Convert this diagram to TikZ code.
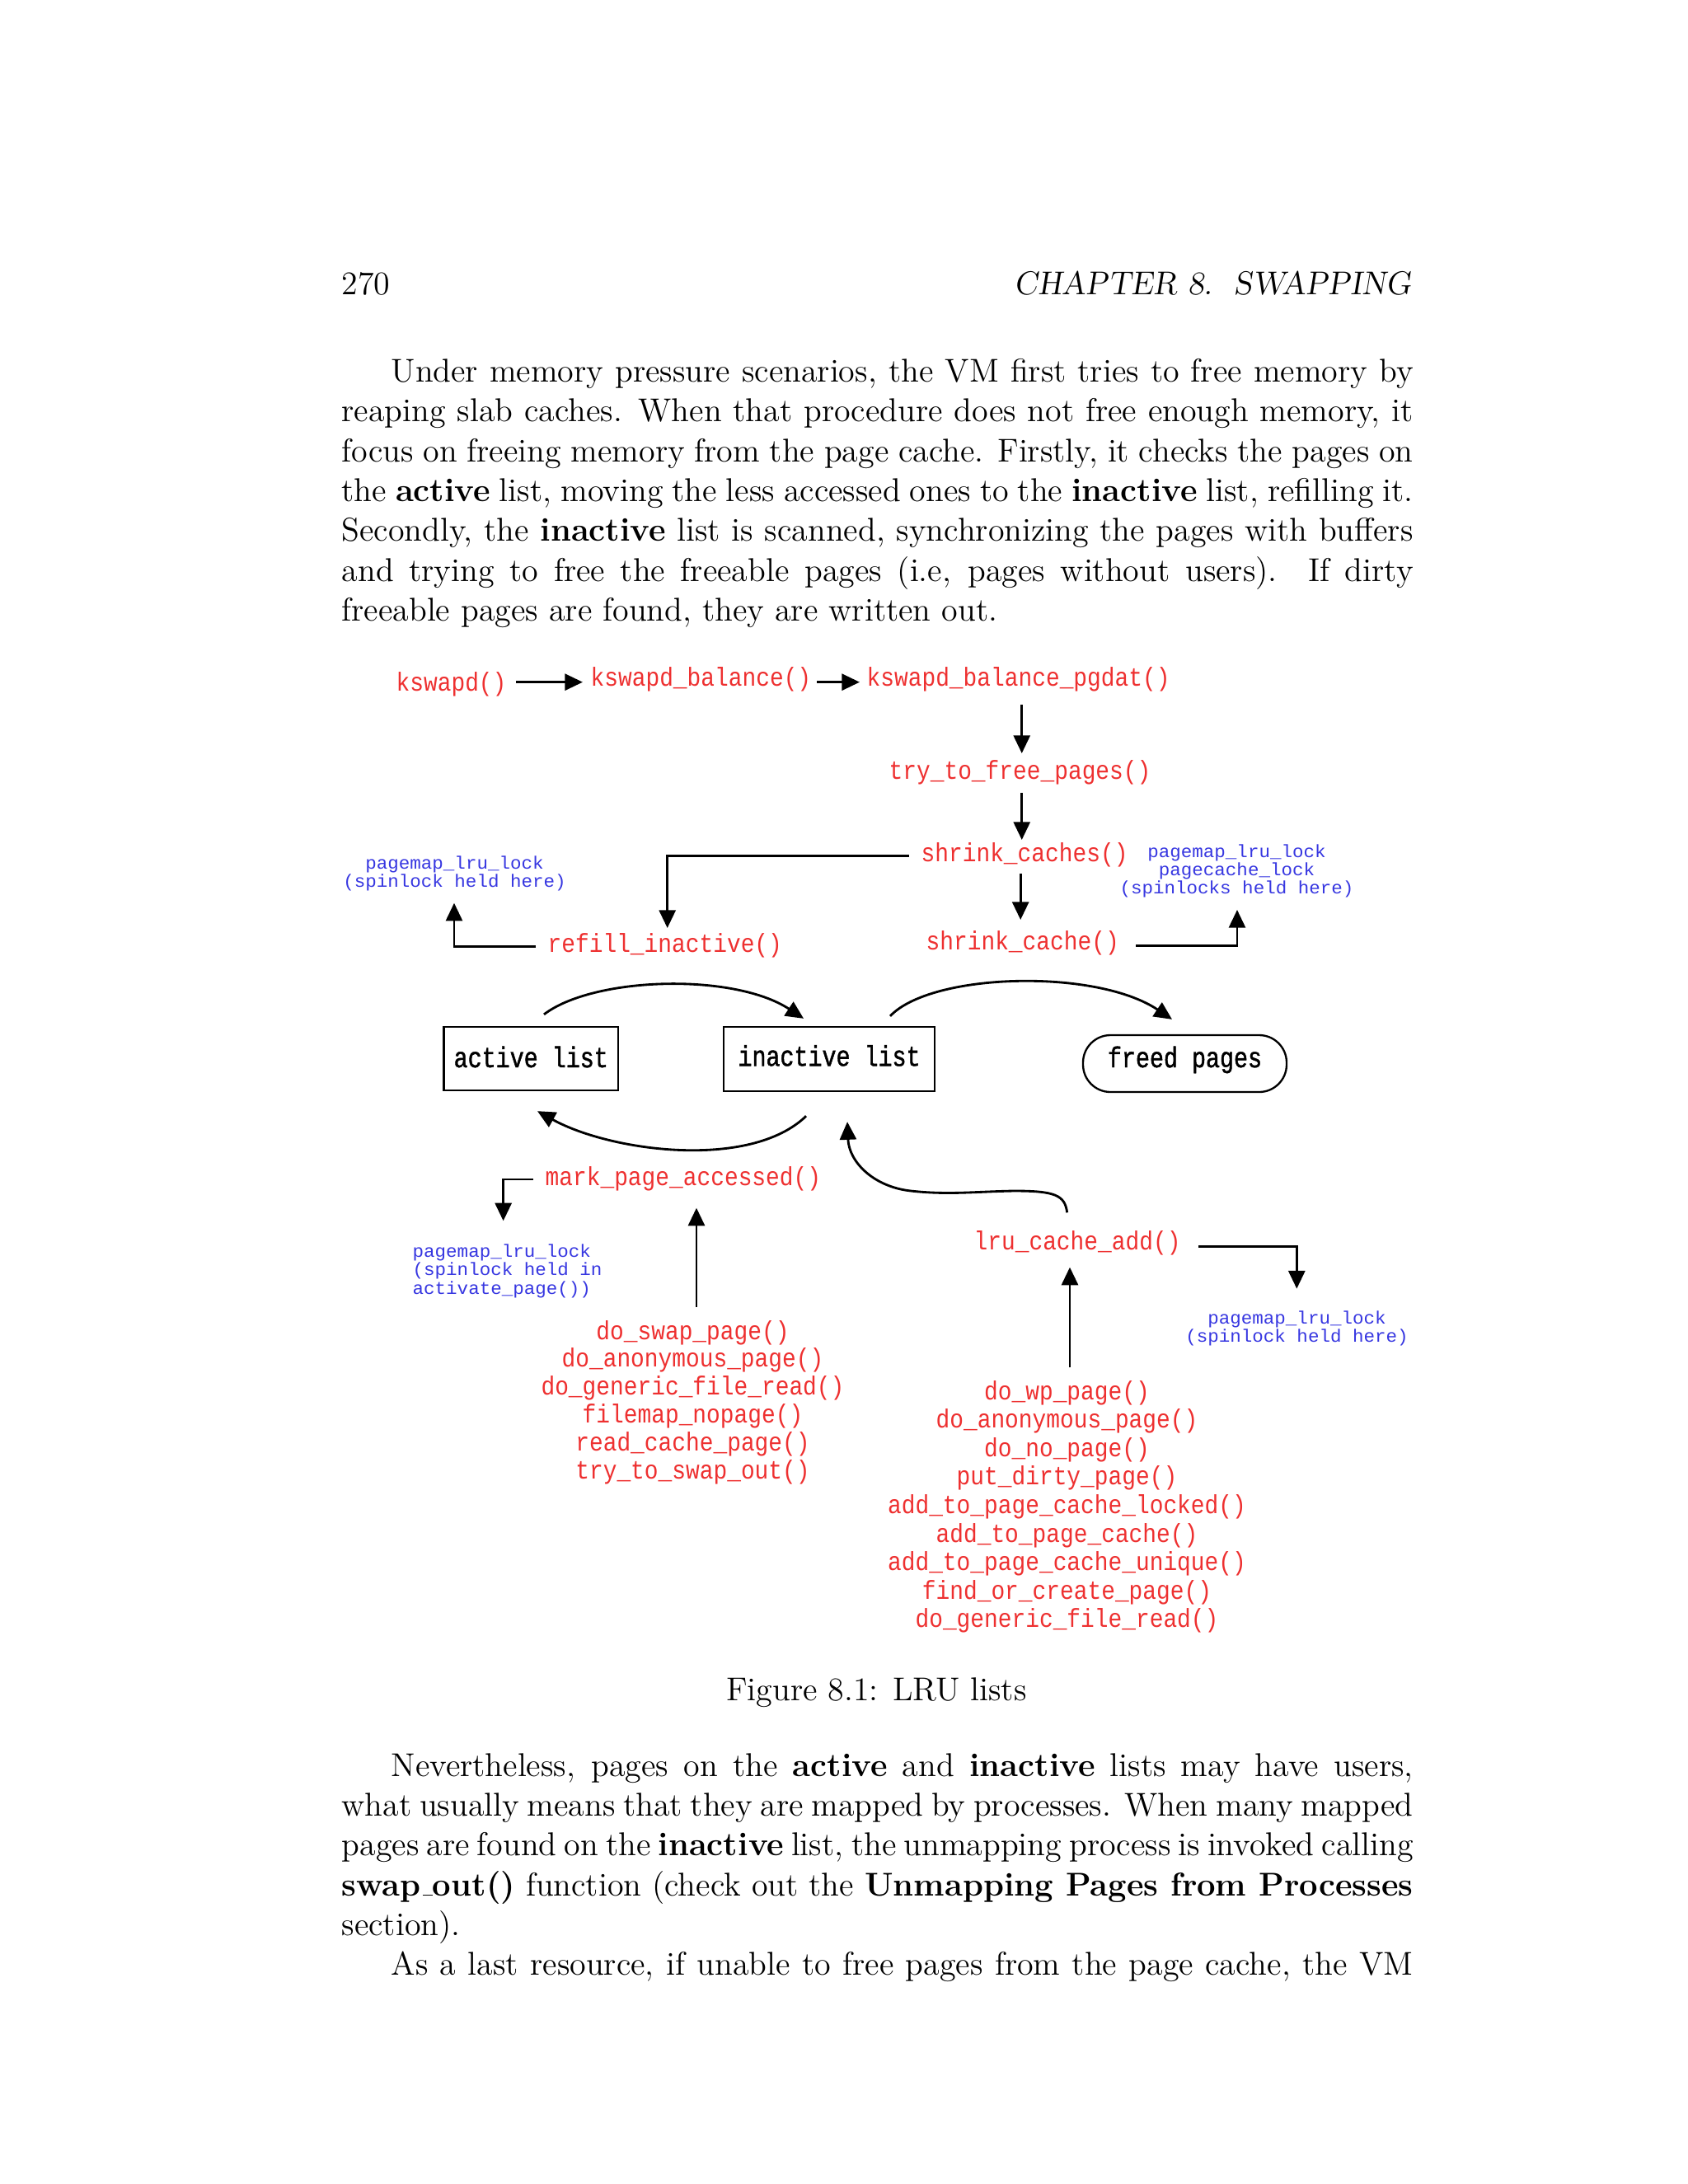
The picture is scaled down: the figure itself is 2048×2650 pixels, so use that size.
\documentclass[tikz,border=0pt]{standalone}
\usepackage{fontspec}
\newfontfamily\dfont[FakeStretch=0.88]{Liberation Mono}
\newfontfamily\lfont[FakeStretch=1.04]{Liberation Mono}
\newfontfamily\bfont[FakeStretch=0.81,FakeBold=1.2]{Liberation Mono}
\usetikzlibrary{arrows.meta,calc}
\definecolor{fnred}{RGB}{238,48,48}
\definecolor{lkblue}{RGB}{55,55,225}
\newcommand\ulbar{\leavevmode\kern.06em\vbox{\hrule width.3em}}
\tikzset{
  body/.style={anchor=base west, inner sep=0pt, font=\fontsize{12}{14.5}\selectfont},
  fn/.style={anchor=base west, inner sep=0pt, text=fnred, font=\fontsize{9.5}{11}\selectfont\dfont, text height=7pt, text depth=2pt},
  fnc/.style={fn, anchor=base},
  lk/.style={anchor=base, inner sep=0pt, text=lkblue, font=\fontsize{6.5}{8}\selectfont\lfont, text height=4.5pt, text depth=1.3pt},
  lkw/.style={lk, anchor=base west},
  lst/.style={draw=black, line width=0.7pt, inner sep=0pt, font=\fontsize{10.5}{12}\selectfont\bfont, text=black},
  conn/.style={line width=0.85pt, -{Triangle[length=6.5pt,width=6pt]}},
}
\begin{document}
\begin{tikzpicture}[x=0.3pt,y=-0.3pt]
\fill[white] (0,0) rectangle (2048,2650);
\useasboundingbox (0,0) rectangle (2048,2650);

% running head
\node[body] (pnum) at (414,357) {270};
\node[body, anchor=base east] (head) at (1713,357) {\slshape CHAPTER 8.\ \ SWAPPING};

% first paragraph
\node[body] (p1a) at (414,463.5) {\makebox[390pt][s]{\hspace*{1.5em}Under memory pressure scenarios, the VM first tries to free memory by}};
\node[body] (p1b) at (414,511.85) {\makebox[390pt][s]{reaping slab caches. When that procedure does not free enough memory, it}};
\node[body] (p1c) at (414,560.2) {\makebox[390pt][s]{focus on freeing memory from the page cache. Firstly, it checks the pages on}};
\node[body] (p1d) at (414,608.55) {\makebox[390pt][s]{the \textbf{active} list, moving the less accessed ones to the \textbf{inactive} list, refilling it.}};
\node[body] (p1e) at (414,656.9) {\makebox[390pt][s]{Secondly, the \textbf{inactive} list is scanned, synchronizing the pages with buffers}};
\node[body] (p1f) at (414,705.25) {\makebox[390pt][s]{and trying to free the freeable pages (i.e, pages without users).\ \ If dirty}};
\node[body] (p1g) at (414,753.6) {freeable pages are found, they are written out.};

% diagram: function names
\node[fn] (kswapd) at (480,838) {kswapd()};
\node[fn] (kbal) at (716,832) {kswapd\_balance()};
\node[fn] (kpg) at (1051,832) {kswapd\_balance\_pgdat()};
\node[fn] (tfp) at (1078,945) {try\_to\_free\_pages()};
\node[fn] (scs) at (1117,1045) {shrink\_caches()};
\node[fn] (refill) at (664,1155) {refill\_inactive()};
\node[fn] (scache) at (1123,1152) {shrink\_cache()};
\node[fn] (mark) at (661,1438) {mark\_page\_accessed()};
\node[fn] (lru) at (1181,1516) {lru\_cache\_add()};

% lock notes
\node[lk] (lockL1) at (551.5,1054) {pagemap\_lru\_lock};
\node[lk] (lockL2) at (551.5,1076) {(spinlock held here)};
\node[lk] (lockR1) at (1500.5,1040) {pagemap\_lru\_lock};
\node[lk] (lockR2) at (1500.5,1062) {pagecache\_lock};
\node[lk] (lockR3) at (1500.5,1084) {(spinlocks held here)};
\node[lkw] (lockLB1) at (500,1525) {pagemap\_lru\_lock};
\node[lkw] (lockLB2) at (500,1547.5) {(spinlock held in};
\node[lkw] (lockLB3) at (500,1570) {activate\_page())};
\node[lk] (lockRB1) at (1573.5,1606) {pagemap\_lru\_lock};
\node[lk] (lockRB2) at (1573.5,1628.5) {(spinlock held here)};

% lists
\node[lst, minimum width=63.45pt, minimum height=23.28pt, text height=7.8pt, text depth=1.5pt] (active) at (644.25,1284.5) {active list};
\node[lst, minimum width=76.65pt, minimum height=23.49pt, text height=6.6pt, text depth=1.5pt] (inactive) at (1006.05,1284.85) {inactive list};
\node[lst, rounded corners=10pt, minimum width=74.1pt, minimum height=20.7pt, text height=4.2pt, text depth=1.5pt] (freed) at (1437.5,1290.5) {freed pages};

% callers of mark_page_accessed
\node[fnc] (ls1) at (840.5,1625) {do\_swap\_page()};
\node[fnc] (ls2) at (840.5,1658.8) {do\_anonymous\_page()};
\node[fnc] (ls3) at (840.5,1692.6) {do\_generic\_file\_read()};
\node[fnc] (ls4) at (840.5,1726.4) {filemap\_nopage()};
\node[fnc] (ls5) at (840.5,1760.2) {read\_cache\_page()};
\node[fnc] (ls6) at (840.5,1794) {try\_to\_swap\_out()};

% callers of lru_cache_add
\node[fnc] (rs1) at (1294.5,1698) {do\_wp\_page()};
\node[fnc] (rs2) at (1294.5,1732.6) {do\_anonymous\_page()};
\node[fnc] (rs3) at (1294.5,1767.2) {do\_no\_page()};
\node[fnc] (rs4) at (1294.5,1801.8) {put\_dirty\_page()};
\node[fnc] (rs5) at (1294.5,1836.4) {add\_to\_page\_cache\_locked()};
\node[fnc] (rs6) at (1294.5,1871) {add\_to\_page\_cache()};
\node[fnc] (rs7) at (1294.5,1905.6) {add\_to\_page\_cache\_unique()};
\node[fnc] (rs8) at (1294.5,1940.2) {find\_or\_create\_page()};
\node[fnc] (rs9) at (1294.5,1974.8) {do\_generic\_file\_read()};

% connectors
\draw[conn] ($(kswapd.east)+(11,-2)$) -- ($(kbal.west |- kswapd.east)+(-9,-2)$);
\draw[conn] ($(kbal.east |- kswapd.east)+(6.5,-2)$) -- ($(kpg.west |- kswapd.east)+(-8,-2)$);
\draw[conn] ($(kpg.south -| tfp.north)+(2.2,16)$) -- ($(tfp.north)+(2.2,-7)$);
\draw[conn] ($(tfp.south)+(2.2,10)$) -- ($(tfp.south |- scs.north)+(2.2,-2)$);
\draw[conn] ($(scs.west)+(-14,2)$) -| ($(refill.north)+(2.9,-5)$);
\draw[conn] ($(scs.south)+(-4.9,8)$) -- ($(scs.south |- scache.north)+(-4.9,-12)$);
\draw[conn] ($(refill.west)+(-14,1.6)$) -| ($(lockL2.south)+(-0.5,14.7)$);
\draw[conn] ($(scache.east)+(20,4)$) -| ($(lockR3.south)+(0.5,15)$);

\draw[conn] ($(active.north)+(15.75,-13.7)$) .. controls (720,1185) and (890,1180) .. ($(inactive.north)+(-31,-8.7)$);
\draw[conn] ($(inactive.north)+(74,-11.7)$) .. controls (1130,1180) and (1330,1175) .. ($(freed.north)+(-15.5,-18)$);
\draw[conn] ($(inactive.south)+(-28,29)$) .. controls (910,1420) and (740,1397) .. ($(active.south)+(7.75,23.7)$);

\draw[conn] ($(mark.west)+(-14,1.3)$) -| ($(lockLB1.north)+(1.8,-28)$);
\draw[conn] ($(ls1.north)+(4.5,-14.7)$) -- ($(ls1.north |- mark.south)+(4.5,20.3)$);
\coordinate (lc1) at (1230,1445);
\coordinate (lc2) at (1105,1445);
\draw[conn] ($(lru.north)+(-12.4,-20.7)$) .. controls (1292,1450) and (1280,1445) .. (lc1) .. controls (1180,1446) and (1150,1450) .. (lc2) .. controls (1060,1440) and (1030,1410) .. ($(inactive.south)+(22,36)$);
\draw[conn] ($(rs1.north)+(3.5,-14.7)$) -- ($(rs1.north |- lru.south)+(3.5,14.3)$);
\draw[conn] ($(lru.east)+(21.2,5)$) -| ($(lockRB1.north)+(-0.2,-26.7)$);

% caption
\node[body, anchor=base] (cap) at (1063.5,2063) {Figure 8.1: LRU lists};

% second paragraph
\node[body] (p2a) at (414,2155) {\makebox[390pt][s]{\hspace*{1.5em}Nevertheless, pages on the \textbf{active} and \textbf{inactive} lists may have users,}};
\node[body] (p2b) at (414,2203.35) {\makebox[390pt][s]{what usually means that they are mapped by processes. When many mapped}};
\node[body] (p2c) at (414,2251.7) {\makebox[390pt][s]{pages are found on the \textbf{inactive} list, the unmapping process is invoked calling}};
\node[body] (p2d) at (414,2300.05) {\makebox[390pt][s]{\textbf{swap\ulbar out()} function (check out the \textbf{Unmapping Pages from Processes}}};
\node[body] (p2e) at (414,2348.4) {section).};
\node[body] (p2f) at (414,2396.75) {\makebox[390pt][s]{\hspace*{1.5em}As a last resource, if unable to free pages from the page cache, the VM}};
\end{tikzpicture}
\end{document}
